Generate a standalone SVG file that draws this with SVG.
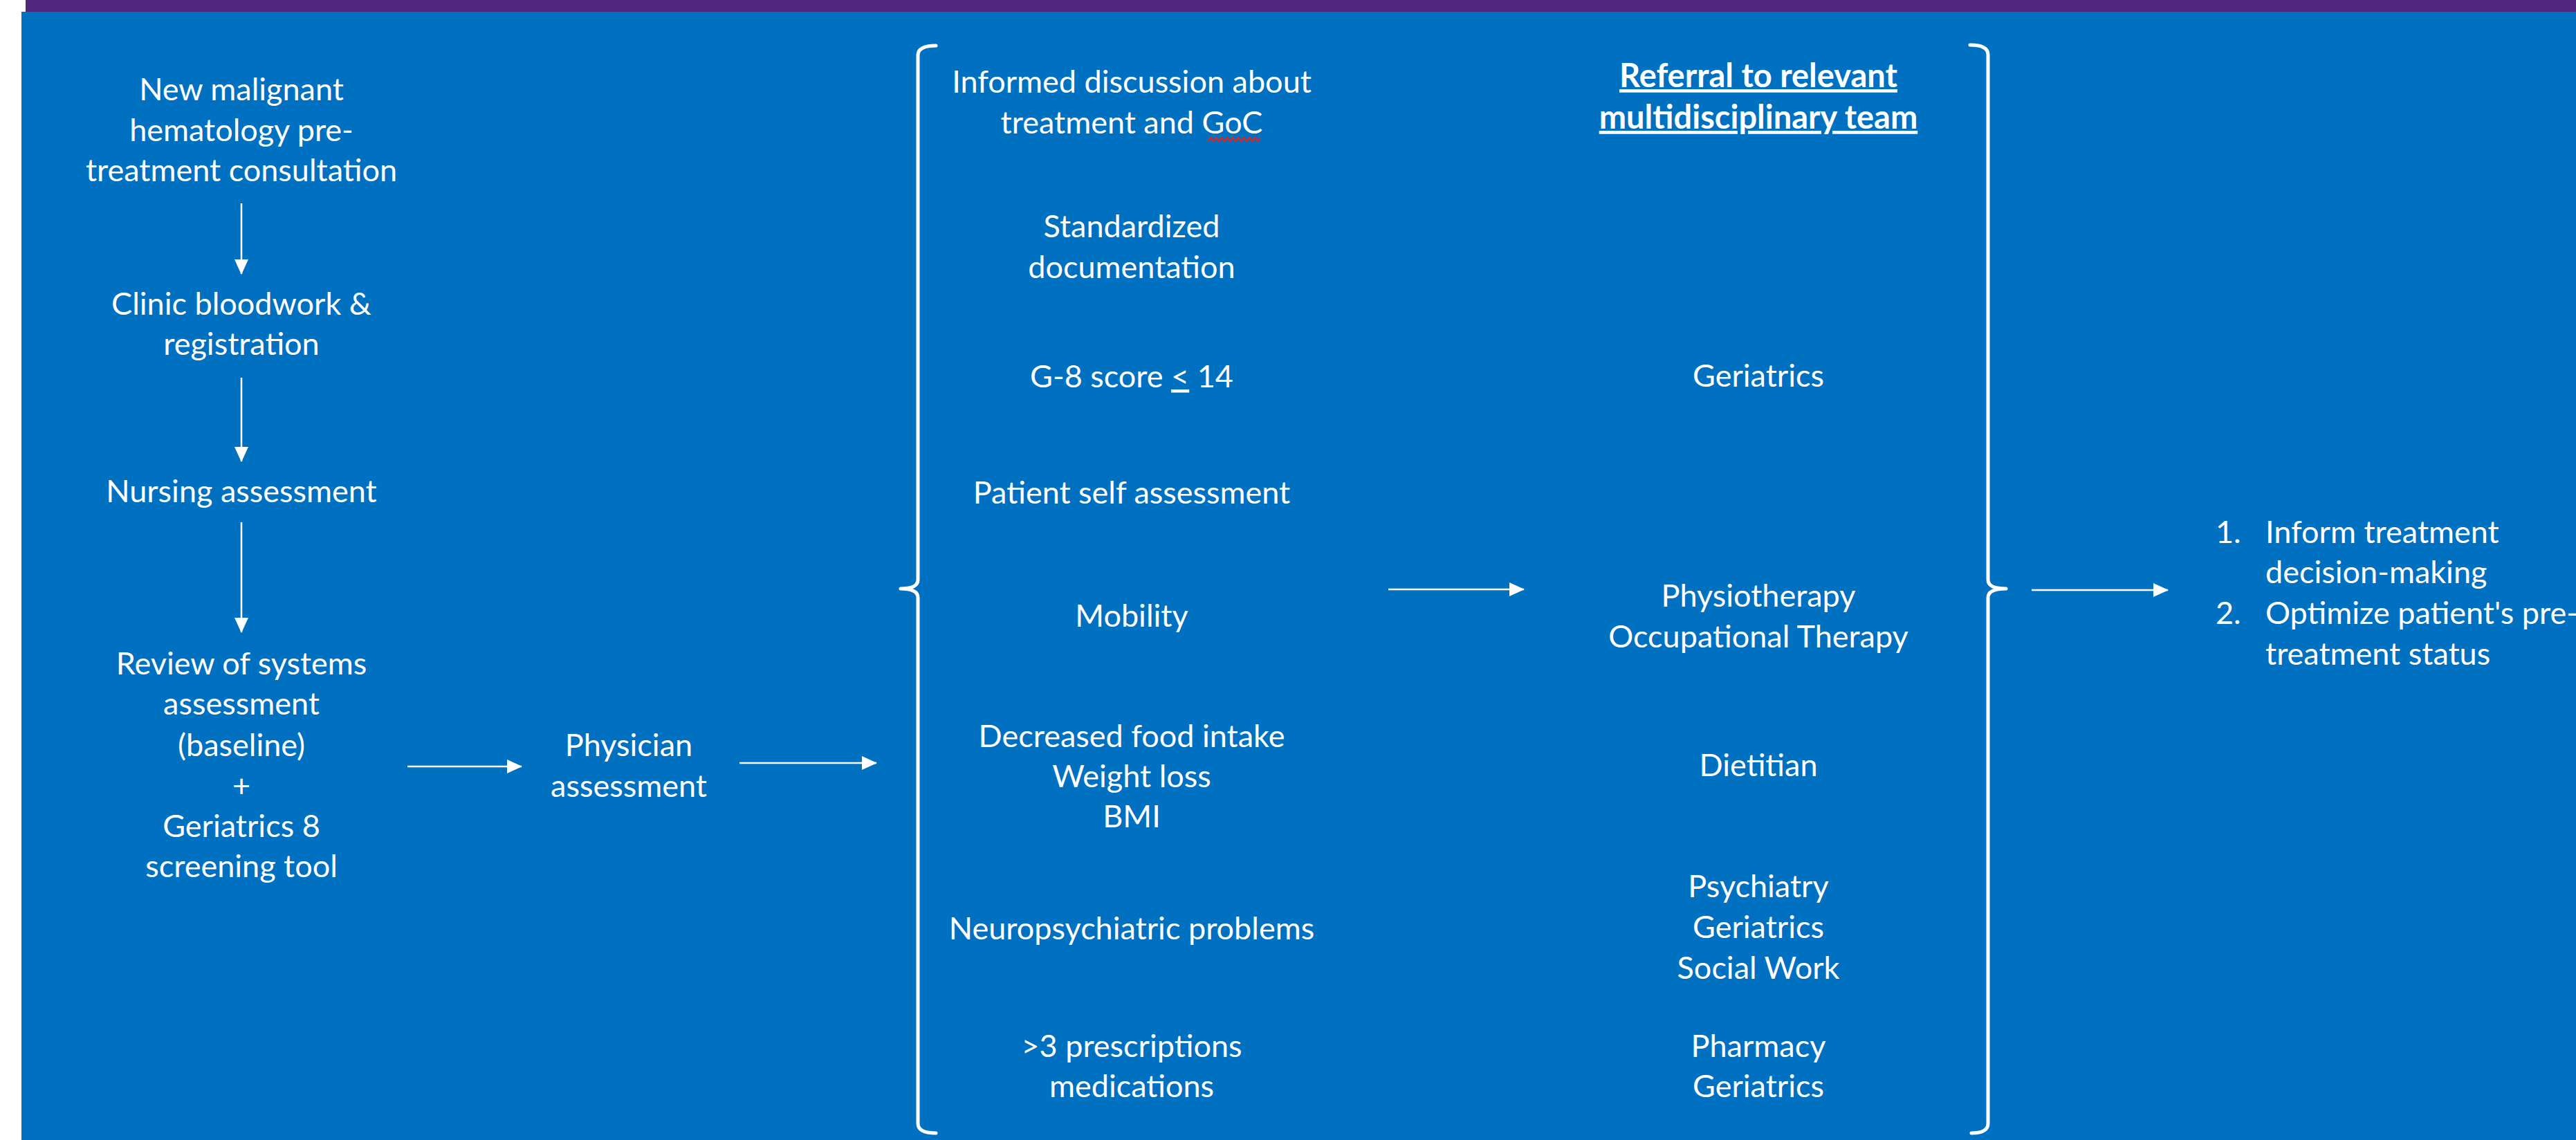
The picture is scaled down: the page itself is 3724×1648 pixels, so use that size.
<svg xmlns="http://www.w3.org/2000/svg" width="3724" height="1648" viewBox="0 0 3724 1648">
  <style>
    .t { font-family: Lato, "Open Sans", "Liberation Sans", sans-serif; font-size: 45px; fill: #FFFFFF; text-anchor: middle; }
    .l { text-anchor: start; }
    .b { font-weight: bold; font-size: 47px; text-decoration: underline; }
    .conn { stroke: #FFFFFF; stroke-width: 2.5; fill: none; marker-end: url(#head); }
    .brace { stroke: #FFFFFF; stroke-width: 5; fill: none; stroke-linecap: round; stroke-linejoin: round; }
  </style>
  <defs>
    <marker id="head" markerUnits="userSpaceOnUse" markerWidth="22" markerHeight="20" viewBox="0 0 22 20" refX="21" refY="10" orient="auto">
      <path d="M0,0 L22,10 L0,20 Z" fill="#FFFFFF"/>
    </marker>
  </defs>

  <!-- slide background -->
  <rect x="0" y="0" width="3724" height="1648" fill="#FFFFFF"/>
  <rect x="37" y="0" width="3687" height="17" fill="#52287F"/>
  <rect x="31" y="17" width="3693" height="1631" fill="#0070C0"/>

  <!-- left flow -->
  <g id="consultation">
    <text class="t" x="349" y="145">New malignant</text>
    <text class="t" x="349" y="204">hematology pre-</text>
    <text class="t" x="349" y="262">treatment consultation</text>
  </g>
  <g id="bloodwork">
    <text class="t" x="349" y="455">Clinic bloodwork &amp;</text>
    <text class="t" x="349" y="513">registration</text>
  </g>
  <g id="nursing">
    <text class="t" x="349" y="726">Nursing assessment</text>
  </g>
  <g id="review">
    <text class="t" x="349" y="975">Review of systems</text>
    <text class="t" x="349" y="1033">assessment</text>
    <text class="t" x="349" y="1093">(baseline)</text>
    <text class="t" x="349" y="1152">+</text>
    <text class="t" x="349" y="1210">Geriatrics 8</text>
    <text class="t" x="349" y="1268">screening tool</text>
  </g>
  <g id="physician">
    <text class="t" x="909" y="1093">Physician</text>
    <text class="t" x="909" y="1152">assessment</text>
  </g>

  <!-- assessment domains -->
  <g id="domains">
    <path class="brace" d="M1353,66 Q1327,66 1327,80 L1327,838 Q1327,851 1302,851 Q1327,851 1327,864 L1327,1624 Q1327,1638 1353,1638"/>
    <g id="goc">
      <text class="t" x="1636" y="134">Informed discussion about</text>
      <text class="t" x="1636" y="193">treatment and GoC</text>
      <!-- spell-check squiggle under GoC -->
      <path d="M1746,204 l4,-5 l4,5 l4,-5 l4,5 l4,-5 l4,5 l4,-5 l4,5 l4,-5 l4,5 l4,-5 l4,5 l4,-5 l4,5 l4,-5 l4,5 l4,-5 l4,5 l4,-5" fill="none" stroke="#D42A2A" stroke-width="2.5"/>
    </g>
    <g id="documentation">
      <text class="t" x="1636" y="343">Standardized</text>
      <text class="t" x="1636" y="402">documentation</text>
    </g>
    <g id="g8">
      <text class="t" x="1636" y="560">G-8 score <tspan text-decoration="underline">&lt;</tspan> 14</text>
    </g>
    <g id="self">
      <text class="t" x="1636" y="728">Patient self assessment</text>
    </g>
    <g id="mobility">
      <text class="t" x="1636" y="906">Mobility</text>
    </g>
    <g id="nutrition">
      <text class="t" x="1636" y="1080">Decreased food intake</text>
      <text class="t" x="1636" y="1138">Weight loss</text>
      <text class="t" x="1636" y="1196">BMI</text>
    </g>
    <g id="neuro">
      <text class="t" x="1636" y="1358">Neuropsychiatric problems</text>
    </g>
    <g id="meds">
      <text class="t" x="1636" y="1528">&gt;3 prescriptions</text>
      <text class="t" x="1636" y="1586">medications</text>
    </g>
  </g>

  <!-- referrals -->
  <g id="referrals">
    <path class="brace" d="M2848,65 Q2874,65 2874,79 L2874,838 Q2874,851 2900,851 Q2874,851 2874,864 L2874,1624 Q2874,1638 2850,1638"/>
    <g id="referral-title">
      <text class="t b" x="2542" y="126">Referral to relevant</text>
      <text class="t b" x="2542" y="186">multidisciplinary team</text>
    </g>
    <g id="ref-geriatrics">
      <text class="t" x="2542" y="559">Geriatrics</text>
    </g>
    <g id="ref-therapy">
      <text class="t" x="2542" y="877">Physiotherapy</text>
      <text class="t" x="2542" y="936">Occupational Therapy</text>
    </g>
    <g id="ref-dietitian">
      <text class="t" x="2542" y="1122">Dietitian</text>
    </g>
    <g id="ref-psych">
      <text class="t" x="2542" y="1297">Psychiatry</text>
      <text class="t" x="2542" y="1356">Geriatrics</text>
      <text class="t" x="2542" y="1415">Social Work</text>
    </g>
    <g id="ref-pharmacy">
      <text class="t" x="2542" y="1528">Pharmacy</text>
      <text class="t" x="2542" y="1586">Geriatrics</text>
    </g>
  </g>

  <!-- outcomes -->
  <g id="outcomes">
    <text class="t l" x="3203" y="785">1.</text>
    <text class="t l" x="3275" y="785">Inform treatment</text>
    <text class="t l" x="3275" y="843">decision-making</text>
    <text class="t l" x="3203" y="902">2.</text>
    <text class="t l" x="3275" y="902">Optimize patient's pre-</text>
    <text class="t l" x="3275" y="961">treatment status</text>
  </g>

  <!-- connectors -->
  <g id="connectors">
    <line class="conn" x1="349" y1="294" x2="349" y2="396"/>
    <line class="conn" x1="349" y1="546" x2="349" y2="667"/>
    <line class="conn" x1="349" y1="755" x2="349" y2="914"/>
    <line class="conn" x1="589" y1="1108" x2="754" y2="1108"/>
    <line class="conn" x1="1069" y1="1103" x2="1267" y2="1103"/>
    <line class="conn" x1="2007" y1="852" x2="2203" y2="852"/>
    <line class="conn" x1="2937" y1="853" x2="3134" y2="853"/>
  </g>
</svg>
